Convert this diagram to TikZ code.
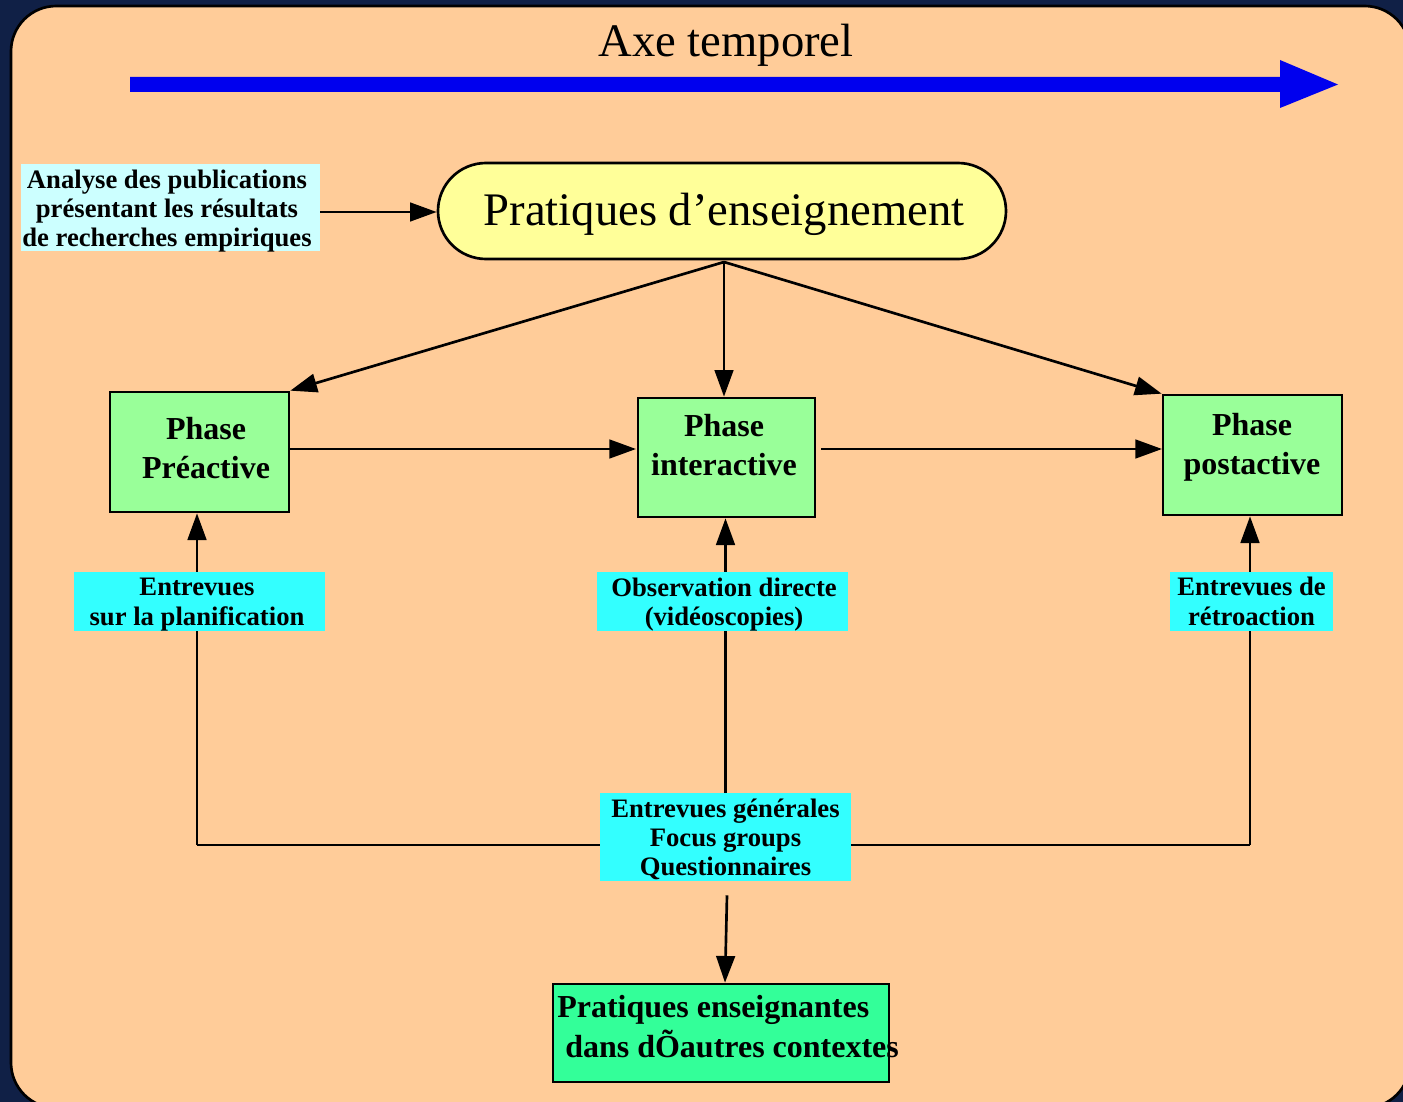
\documentclass[tikz,border=0pt]{standalone}
\usepackage{fontspec}
\setmainfont{Liberation Serif}
\usetikzlibrary{arrows.meta}
\definecolor{navy}{RGB}{16,32,70}
\definecolor{peach}{RGB}{255,204,153}
\definecolor{paleyellow}{RGB}{255,255,153}
\definecolor{palecyan}{RGB}{204,255,255}
\definecolor{brightcyan}{RGB}{51,255,255}
\definecolor{lightgreen}{RGB}{153,255,153}
\definecolor{seagreen}{RGB}{51,255,153}
\definecolor{arrowblue}{RGB}{0,0,238}
\begin{document}
\begin{tikzpicture}[x=0.75pt,y=-0.75pt,
  sz/.style 2 args={minimum width=#1*0.75pt,minimum height=#2*0.75pt},
  phasebox/.style={draw=black,line width=2pt,fill=lightgreen,inner sep=0pt},
  phasetext/.style={font=\bfseries\fontsize{24}{29.5}\selectfont,align=center,inner sep=0pt},
  cyanbox/.style={fill=brightcyan,inner sep=0pt},
  labeltext/.style={inner sep=0pt,font=\bfseries\fontsize{20}{22}\selectfont,align=center},
  conn/.style={line width=2pt,-{Triangle[length=20pt,width=14pt]}},
  plainline/.style={line width=2pt}]
\path[use as bounding box] (0,0) rectangle (1403,1102);
\fill[navy] (0,0) rectangle (1403,1102);
\begin{scope}
\clip (0,0) rectangle (1403,1102);
\draw[fill=peach,draw=black,line width=2pt,rounded corners=34pt] (11,6) rectangle (1410,1108);
\end{scope}
% time axis
\fill[arrowblue] (130,77) -- (1280,77) -- (1280,60) -- (1338,84.5) -- (1280,108) -- (1280,92) -- (130,92) -- cycle;
\node[font=\fontsize{35}{40}\selectfont,inner sep=0pt] (axe) at (726,45) {Axe temporel};
% main nodes
\node[draw=black,line width=2pt,fill=paleyellow,rounded corners=36pt,sz={568}{96},inner sep=0pt] (prat) at (722,211) {};
\node[font=\fontsize{35}{40}\selectfont,inner sep=0pt] (pratT) at (724,214) {Pratiques d’enseignement};
\node[fill=palecyan,sz={299}{87},inner sep=0pt] (ana) at (170.5,207.5) {};
\node[labeltext,font=\bfseries\fontsize{20}{21.75}\selectfont] (anaT) at (167,211)
      {Analyse des publications\\présentant les résultats\\de recherches empiriques};
\node[phasebox,sz={179}{120}] (pre) at (199.5,452) {};
\node[phasebox,sz={177}{119}] (int) at (726.5,457.5) {};
\node[phasebox,sz={179}{120}] (post) at (1252.5,455) {};
\node[phasetext] (preT) at (206,448) {Phase\\Préactive};
\node[phasetext] (intT) at (724,445) {Phase\\interactive};
\node[phasetext] (postT) at (1252,447.5) {Phase\\postactive};
\node[cyanbox,sz={251}{88}] (gen) at (725.5,837) {};
\node[labeltext] (genT) at (725.5,839.5) {Entrevues générales\\Focus groups\\Questionnaires};
\node[draw=black,line width=2pt,fill=seagreen,sz={336}{98},inner sep=0pt] (bot) at (721,1033) {};
\node[anchor=west,align=left,inner sep=0pt,font=\bfseries\fontsize{24}{30}\selectfont] (botT) at (557,1027)
      {Pratiques enseignantes\\\ dans dÕautres contextes};
% connectors
\coordinate (top) at (724,262);
\coordinate (cl) at (197,845);
\coordinate (cr) at (1250,845);
\draw[conn] (ana.east |- 0,212) -- (prat.west |- 0,212);
\draw[conn] (top) -- (pre.north east);
\draw[conn] (top) -- (top |- int.north);
\draw[conn] (top) -- (post.north west);
\draw[conn] (289,449) -- (636,449);
\draw[conn] (821,449) -- (1162,449);
\draw[plainline] (gen.west |- cl) -- (cl);
\draw[conn] (cl) -- (cl |- pre.south);
\draw[plainline] (gen.east |- cr) -- (cr);
\draw[conn] (cr) -- (cr |- post.south);
\draw[conn] (gen.north) -- (gen.north |- int.south);
\draw[conn] ([shift={(1.5,14)}]gen.south) -- ([xshift=4*0.75pt]bot.north);
% labels over lines
\node[cyanbox,sz={251}{59}] (lplan) at (199.5,601.5) {};
\node[labeltext] (lplanT) at (197,604.5) {Entrevues\\sur la planification};
\node[cyanbox,sz={251}{59}] (lobs) at (722.5,601.5) {};
\node[labeltext] (lobsT) at (724,604.5) {Observation directe\\(vidéoscopies)};
\node[cyanbox,sz={163}{59}] (lretro) at (1251.5,601.5) {};
\node[labeltext] (lretroT) at (1251.5,601.5) {Entrevues de\\rétroaction};
\end{tikzpicture}
\end{document}
